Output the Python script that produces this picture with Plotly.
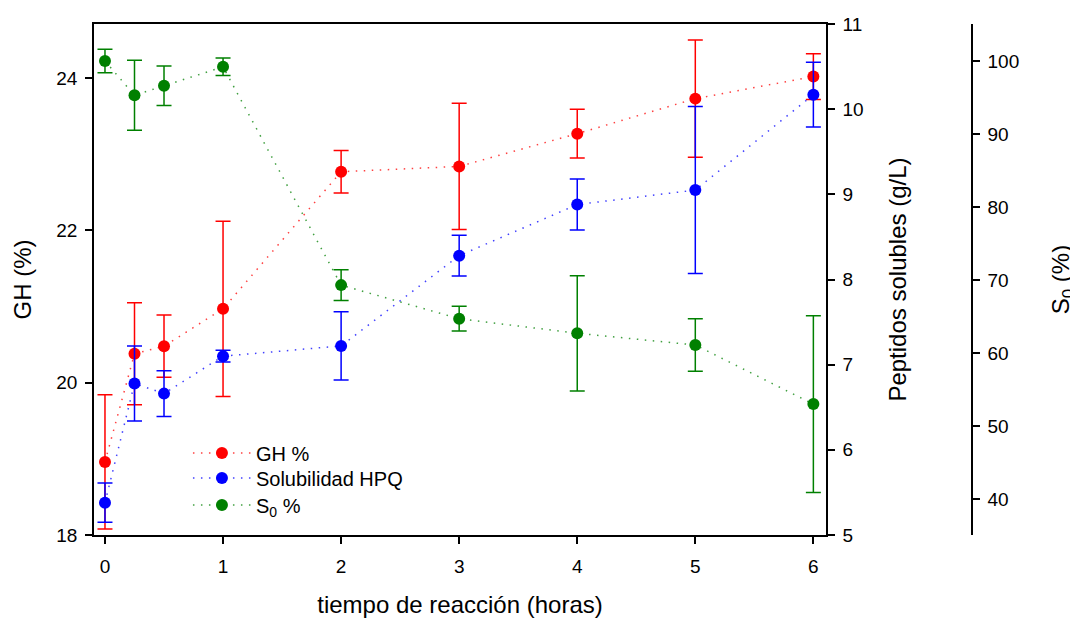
import plotly.graph_objects as go

tiempo = [0, 0.25, 0.5, 1, 2, 3, 4, 5, 6]

gh = [18.96, 20.38, 20.48, 20.97, 22.77, 22.84, 23.27, 23.73, 24.02]
gh_err = [0.88, 0.67, 0.41, 1.15, 0.28, 0.83, 0.32, 0.77, 0.30]

sol = [5.38, 6.78, 6.66, 7.10, 7.22, 8.28, 8.88, 9.05, 10.17]
sol_err = [0.23, 0.44, 0.27, 0.07, 0.40, 0.24, 0.30, 0.98, 0.38]

s0 = [100.0, 95.3, 96.6, 99.2, 69.3, 64.7, 62.7, 61.1, 53.0]
s0_err = [1.6, 4.8, 2.7, 1.2, 2.1, 1.7, 7.9, 3.6, 12.1]

FONT = "Liberation Sans, Arial, sans-serif"
COLORS = {"red": ("#ff0000", "rgba(255,0,0,0.75)"),
          "blue": ("#0000ff", "rgba(0,0,255,0.75)"),
          "green": ("#008000", "rgba(0,128,0,0.75)")}

fig = go.Figure()


def add(y, err, cname, name, yax, leg):
    solid, light = COLORS[cname]
    fig.add_trace(go.Scatter(
        x=tiempo, y=y, name=name, yaxis=yax, mode="lines+markers",
        legend=leg,
        line=dict(color=light, width=1.5, dash="1.5px,6.5px"),
        marker=dict(color=solid, size=12),
        error_y=dict(type="data", array=err, visible=True, color=solid,
                     thickness=1.5, width=7.5),
    ))


add(gh, gh_err, "red", "GH %", "y", "legend")
add(sol, sol_err, "blue", "Solubilidad HPQ", "y2", "legend2")
add(s0, s0_err, "green", "S<sub>0</sub> %", "y3", "legend3")

axis_common = dict(showline=True, linecolor="black", linewidth=1.5,
                   ticks="outside", ticklen=7, tickwidth=1.5, tickcolor="black",
                   showgrid=False, zeroline=False, automargin=False,
                   tickfont=dict(family=FONT, size=19, color="black"))
TITLE_FONT = dict(family=FONT, size=24, color="black")


def leg(y):
    return dict(x=0.107, y=y, xanchor="left", yanchor="middle",
                bgcolor="rgba(0,0,0,0)", font=dict(family=FONT, size=20),
                itemwidth=58)


fig.update_layout(
    width=1070, height=611,
    margin=dict(l=86, r=106, t=16, b=84, autoexpand=False),
    paper_bgcolor="white", plot_bgcolor="white",
    font=dict(family=FONT, size=19, color="black"),
    xaxis=dict(domain=[0, 732 / 878], range=[-0.093, 6.107],
               tickvals=[0, 1, 2, 3, 4, 5, 6], mirror=True,
               ticklabelstandoff=6,
               title=dict(text="tiempo de reacción (horas)", font=TITLE_FONT,
                          standoff=21),
               **axis_common),
    yaxis=dict(range=[18, 24.71], tickvals=[18, 20, 22, 24],
               ticklabelstandoff=4,
               title=dict(text="GH (%)", font=TITLE_FONT, standoff=18),
               **axis_common),
    yaxis2=dict(range=[5, 11], tickvals=[5, 6, 7, 8, 9, 10, 11],
                overlaying="y", side="right", anchor="x",
                ticklabelstandoff=4,
                title=dict(text="Peptidos solubles (g/L)", font=TITLE_FONT,
                           standoff=27),
                **axis_common),
    yaxis3=dict(range=[35.07, 105.07], tickvals=[40, 50, 60, 70, 80, 90, 100],
                overlaying="y", side="right", anchor="free", position=1.0,
                ticklabelstandoff=4,
                title=dict(text="S<sub>0</sub> (%)", font=TITLE_FONT,
                           standoff=34),
                **axis_common),
    legend=leg(0.1605),
    legend2=leg(0.1115),
    legend3=leg(0.0587),
    showlegend=True,
)

fig.write_html("out.html")
